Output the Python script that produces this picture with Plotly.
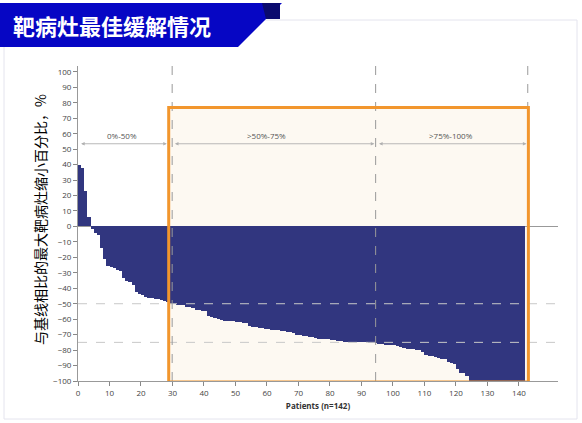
import plotly.graph_objects as go

# ---------------- data ----------------
patients = list(range(1, 143))
best_change = [
    40, 38, 23, 6, -1.5, -4, -5.5, -14, -21, -25.5,
    -26.5, -27, -28, -29, -33.5, -35, -36, -38, -42.5, -43.5,
    -44.5, -45.5, -46, -46, -47, -47, -47.5, -48, -49, -50.5,
    -50.5, -51, -51, -51, -52, -52, -52.5, -54, -54, -54.5,
    -55, -58, -58.5, -59, -60, -60.5, -61, -61, -61.5, -61.5,
    -62, -62, -62.5, -62.5, -64.5, -65, -65, -65.5, -66, -66.5,
    -66.5, -67, -67, -67, -67.5, -67.5, -68, -68.5, -69, -70,
    -70.5, -71, -71, -71.5, -71.5, -72, -72.5, -72.5, -73, -73,
    -73.5, -73.5, -74, -74, -74.5, -74.5, -74.5, -75, -75, -75,
    -75, -75, -75.5, -75.5, -75.5, -76, -76, -76.5, -76.5, -77,
    -77, -77.5, -78, -78.5, -79, -79, -79.5, -80, -80, -81,
    -83, -83.5, -84, -84.5, -85, -85.5, -86, -88, -88.5, -89,
    -92, -95, -95, -97, -100, -100, -100, -100, -100, -100,
    -100, -100, -100, -100, -100, -100, -100, -100, -100, -100,
    -100, -100,
]
x_ticks = list(range(0, 141, 10))
y_ticks = list(range(-100, 101, 10))
ref_levels = [-50, -75]
group_bounds = [29.9, 94.5, 142.8]
group_labels = ["0%-50%", ">50%-75%", ">75%-100%"]
group_arrows = [(0.5, 28.2), (30.3, 94.1), (95.1, 142.4)]
group_label_x = [14.1, 59.7, 118.5]
box_x = (28.8, 143.0)
box_y = (-100.6, 77.0)

W, H = 582, 423
L, R, T, B = 78, 24, 66, 42
PW, PH = W - L - R, H - T - B


def px(xp):
    return (xp - L) / PW


def py(yp):
    return (H - B - yp) / PH


NAVY = "#31367f"
fig = go.Figure()
fig.add_trace(go.Bar(
    x=[p - 0.5 for p in patients], y=best_change, width=1,
    marker=dict(color=NAVY, line=dict(width=0)), hoverinfo="skip",
))

shapes = []
# cream fill of box (below bars)
shapes.append(dict(type="rect", xref="x", yref="y", x0=box_x[0], x1=box_x[1],
                   y0=box_y[0], y1=box_y[1], fillcolor="#fdf9f2",
                   line=dict(width=0), layer="below"))
# horizontal reference dashed lines
for lv in ref_levels:
    shapes.append(dict(type="line", xref="paper", yref="y", x0=0, x1=1, y0=lv, y1=lv,
                       line=dict(color="#c8c8c8", width=1, dash="dash")))
# vertical dashed group boundaries
for gb in group_bounds:
    shapes.append(dict(type="line", xref="x", yref="paper", x0=gb, x1=gb, y0=0, y1=1,
                       line=dict(color="#9a9a9a", width=1, dash="dash")))
# orange border (above bars)
shapes.append(dict(type="rect", xref="x", yref="y", x0=box_x[0], x1=box_x[1],
                   y0=box_y[0], y1=box_y[1], fillcolor="rgba(0,0,0,0)",
                   line=dict(color="#f2962d", width=3)))
# page frame
shapes.append(dict(type="rect", xref="paper", yref="paper", x0=px(4), x1=px(577),
                   y0=py(419), y1=py(20), line=dict(color="#e4e4ee", width=1),
                   layer="below"))


# banner
def path(pts):
    return "M " + " L ".join(f"{px(a)},{py(b)}" for a, b in pts) + " Z"


shapes.append(dict(type="path", xref="paper", yref="paper",
                   path=path([(0, 3), (282, 3), (238, 47), (0, 47)]),
                   fillcolor="#0606c4", line=dict(width=0)))
shapes.append(dict(type="path", xref="paper", yref="paper",
                   path=path([(262, 3), (280, 3), (280, 19), (266, 19)]),
                   fillcolor="#0a0a6e", line=dict(width=0)))

annotations = []
annotations.append(dict(xref="paper", yref="paper", x=px(11), y=py(25),
                        xanchor="left", yanchor="middle", showarrow=False,
                        text="<b>靶病灶最佳缓解情况</b>",
                        font=dict(family="Noto Sans CJK SC", size=22, color="white")))
annotations.append(dict(xref="paper", yref="paper", x=px(40), y=py(220),
                        xanchor="center", yanchor="middle", showarrow=False,
                        textangle=-90, text="与基线相比的最大靶病灶缩小百分比，%",
                        font=dict(family="Noto Sans CJK SC", size=14, color="#000")))
for (a, b), lab, lx in zip(group_arrows, group_labels, group_label_x):
    annotations.append(dict(xref="x", yref="y", axref="x", ayref="y",
                            x=b, y=53.5, ax=a, ay=53.5, text="", showarrow=True,
                            arrowhead=2, arrowside="end+start", arrowsize=0.8,
                            arrowwidth=0.9, arrowcolor="#b0b0b0"))
    annotations.append(dict(xref="x", yref="y", x=lx, y=53.5, yshift=1,
                            xanchor="center", yanchor="bottom", showarrow=False,
                            text=lab, font=dict(family="Open Sans", size=8, color="#555")))

fig.update_layout(
    width=W, height=H, margin=dict(l=L, r=R, t=T, b=B, pad=0),
    paper_bgcolor="white", plot_bgcolor="white", showlegend=False,
    bargap=0, shapes=shapes, annotations=annotations,
    font=dict(family="Open Sans", size=8, color="#444"),
)
fig.update_xaxes(range=[0, 152.4], tickvals=x_ticks, ticks="outside", ticklen=4,
                 tickcolor="#888", showline=True, linecolor="#999", linewidth=1,
                 showgrid=False, zeroline=False,
                 title=dict(text="<b>Patients (n=142)</b>", standoff=6,
                            font=dict(family="Open Sans", size=8, color="#333")),
                 tickfont=dict(family="Open Sans", size=8, color="#444"))
fig.update_yaxes(range=[-100, 103.8], tickvals=y_ticks, ticks="outside", ticklen=4,
                 tickcolor="#888", showline=True, linecolor="#999", linewidth=1,
                 showgrid=False, zeroline=True, zerolinecolor="#999", zerolinewidth=1,
                 tickfont=dict(family="Open Sans", size=8, color="#444"))

fig.write_html("out.html", config={"displayModeBar": False},
               post_script="document.body.style.margin='0';")
